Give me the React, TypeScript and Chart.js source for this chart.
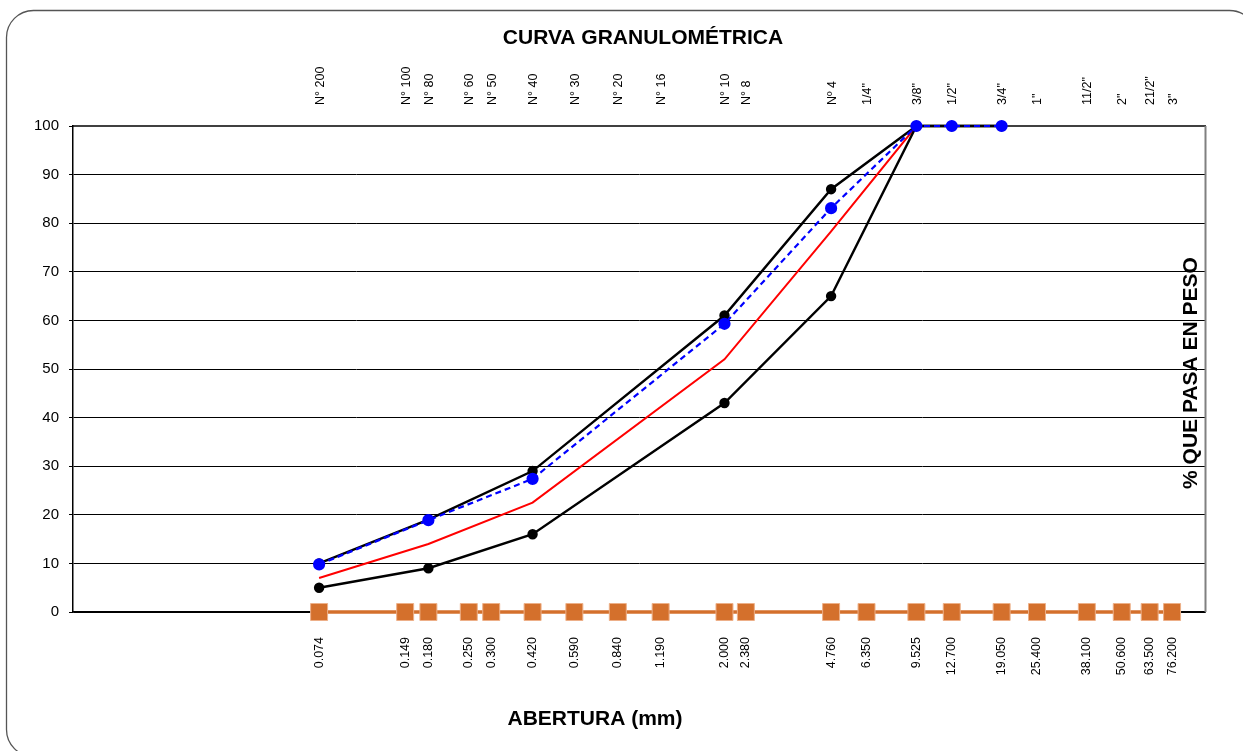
import React, { useEffect, useRef } from "react";
import { Chart, registerables } from "chart.js";

Chart.register(...registerables);

// Sieve openings (mm) and names
const sieveOpenings = [0.074, 0.149, 0.18, 0.25, 0.3, 0.42, 0.59, 0.84, 1.19, 2.0, 2.38, 4.76, 6.35, 9.525, 12.7, 19.05, 25.4, 38.1, 50.6, 63.5, 76.2];
const sieveNames = ["N° 200", "N° 100", "N° 80", "N° 60", "N° 50", "N° 40", "N° 30", "N° 20", "N° 16", "N° 10", "N° 8", "Nº 4", "1/4\"", "3/8\"", "1/2\"", "3/4\"", "1\"", "11/2\"", "2\"", "21/2\"", "3\""];

// Curve points
const curveX = [0.074, 0.18, 0.42, 2.0, 4.76, 9.525, 12.7, 19.05];
const upperLimit = [10, 19, 29, 61, 87, 100, 100, 100];
const lowerLimit = [5, 9, 16, 43, 65, 100, 100, 100];
const middleCurve = [7, 14, 22.5, 52, 78.3, 100, 100, 100];
const sampleCurve = [9.8, 18.9, 27.4, 59.3, 83.1, 100, 100, 100];
const baseLine = sieveOpenings.map(() => 0);

const FONT = "'Liberation Sans', Arial, sans-serif";

const pts = (xs: number[], ys: number[]) => xs.map((x, i) => ({ x, y: ys[i] }));

const decorPlugin = {
  id: "decor",
  afterDraw(chart: any) {
    const ctx = chart.ctx;
    const a = chart.chartArea;
    ctx.save();
    // outer rounded frame
    ctx.strokeStyle = "#555";
    ctx.lineWidth = 1.3;
    ctx.beginPath();
    (ctx as any).roundRect(6.5, 10.5, 1250, 746, 27);
    ctx.stroke();
    // right border of plot
    ctx.strokeStyle = "#808080";
    ctx.lineWidth = 2;
    ctx.beginPath();
    ctx.moveTo(a.right, a.top);
    ctx.lineTo(a.right, a.bottom);
    ctx.stroke();
    // titles
    ctx.fillStyle = "#000";
    ctx.font = `bold 21px ${FONT}`;
    ctx.textAlign = "center";
    ctx.textBaseline = "middle";
    ctx.fillText("CURVA GRANULOMÉTRICA", 643, 38);
    ctx.fillText("ABERTURA (mm)", 595, 719);
    ctx.translate(1191.5, 373);
    ctx.rotate(-Math.PI / 2);
    ctx.fillText("% QUE PASA EN PESO", 0, 0);
    ctx.restore();
  },
};

export default function App() {
  const ref = useRef<HTMLCanvasElement>(null);
  useEffect(() => {
    if (!ref.current) return;
    const setTicks = (scale: any) => {
      scale.ticks = sieveOpenings.map((v) => ({ value: v }));
    };
    const chart = new Chart(ref.current, {
      type: "scatter",
      data: {
        datasets: [
          {
            label: "Tamices",
            data: pts(sieveOpenings, baseLine),
            showLine: true,
            borderColor: "#D4702C",
            borderWidth: 3.5,
            pointStyle: "rect",
            pointRadius: 12,
            pointHoverRadius: 12,
            backgroundColor: "#D4702C",
            pointBackgroundColor: "#D4702C",
            pointBorderColor: "#EDB088",
            pointBorderWidth: 1,
            clip: false as any,
            order: 6,
          },
          {
            label: "Curva media",
            data: pts(curveX, middleCurve),
            showLine: true,
            borderColor: "#FF0000",
            backgroundColor: "#FF0000",
            borderWidth: 2,
            pointRadius: 0,
            clip: false as any,
            order: 5,
          },
          {
            label: "Límite inferior",
            data: pts(curveX, lowerLimit),
            showLine: true,
            borderColor: "#000",
            backgroundColor: "#000",
            borderWidth: 2.4,
            pointRadius: 4,
            clip: false as any,
            order: 4,
          },
          {
            label: "Límite superior",
            data: pts(curveX, upperLimit),
            showLine: true,
            borderColor: "#000",
            backgroundColor: "#000",
            borderWidth: 2.4,
            pointRadius: 4,
            clip: false as any,
            order: 3,
          },
          {
            label: "Muestra",
            data: pts(curveX, sampleCurve),
            showLine: true,
            borderColor: "#0000FF",
            backgroundColor: "#0000FF",
            borderWidth: 2.2,
            borderDash: [6, 4],
            pointRadius: 5,
            clip: false as any,
            order: 1,
          },
        ],
      },
      options: {
        animation: false,
        responsive: false,
        layout: { padding: { left: 0, right: 37.5, top: 0, bottom: 0 } },
        plugins: { legend: { display: false }, tooltip: { enabled: false }, title: { display: false } },
        scales: {
          x: {
            type: "logarithmic",
            position: "bottom",
            min: 0.01,
            max: 100,
            afterBuildTicks: setTicks,
            afterFit: (s: any) => { s.height = 139; },
            grid: { display: false, drawTicks: false },
            border: { display: true, color: "#000", width: 1.5 },
            ticks: {
              autoSkip: false,
              minRotation: 90,
              maxRotation: 90,
              padding: 25,
              color: "#000",
              font: { family: FONT, size: 12.5 },
              callback: (v: any, i: number) => sieveOpenings[i].toFixed(3),
            },
          },
          x2: {
            type: "logarithmic",
            position: "top",
            min: 0.01,
            max: 100,
            afterBuildTicks: setTicks,
            afterFit: (s: any) => { s.height = 126; },
            grid: { display: false, drawTicks: false },
            border: { display: true, color: "#404040", width: 2 },
            ticks: {
              autoSkip: false,
              minRotation: 90,
              maxRotation: 90,
              padding: 21,
              labelOffset: 16,
              color: "#000",
              font: { family: FONT, size: 12.5 },
              callback: (v: any, i: number) => sieveNames[i],
            },
          },
          y: {
            type: "linear",
            min: 0,
            max: 100,
            afterFit: (s: any) => { s.width = 73; },
            grid: { color: "#000", lineWidth: 1, tickLength: 4, drawTicks: true },
            border: { display: true, color: "#000", width: 1.5 },
            ticks: {
              stepSize: 10,
              padding: 10,
              color: "#000",
              font: { family: FONT, size: 15 },
            },
          },
        },
      },
      plugins: [decorPlugin],
    } as any);
    return () => chart.destroy();
  }, []);
  return (
    <div style={{ position: "absolute", left: 0, top: 0, width: 1243, height: 751, background: "#fff" }}>
      <canvas ref={ref} width={1243} height={751} style={{ display: "block", width: 1243, height: 751 }} />
    </div>
  );
}
